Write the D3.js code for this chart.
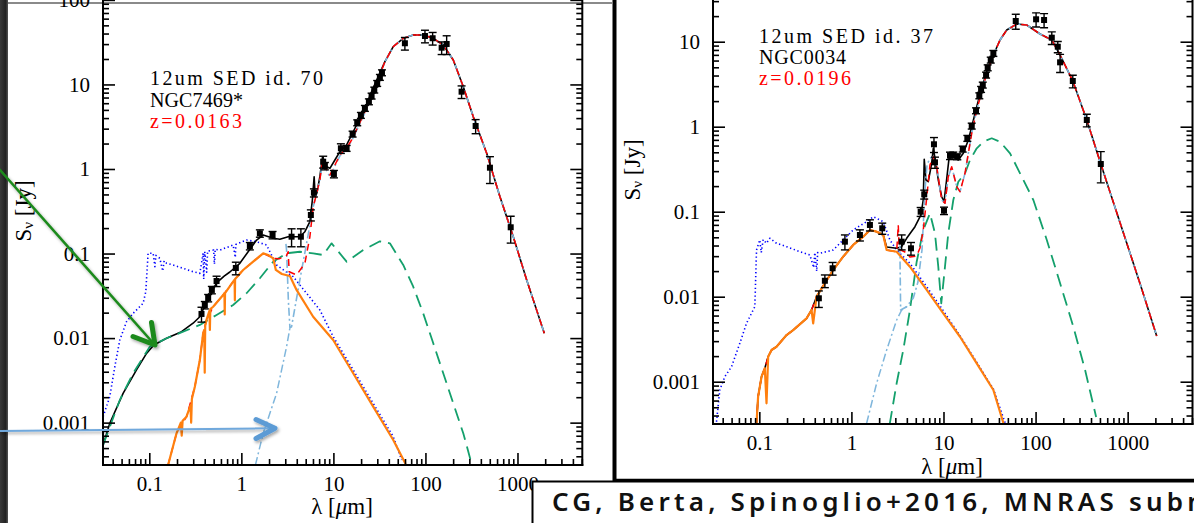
<!DOCTYPE html>
<html><head><meta charset="utf-8">
<script src="https://cdn.jsdelivr.net/npm/d3@7"></script>
<style>
html,body{margin:0;padding:0;background:#fff;overflow:hidden}
svg{display:block}
</style></head><body>
<svg id="chart" width="1194" height="523"></svg>
<script>
// ---------------- DATA (λ in µm, Sν in Jy) ----------------
const xMajor = [0.1, 1, 10, 100, 1000];
const yMajorLeft = [0.001, 0.01, 0.1, 1, 10, 100];
const yMajorRight = [0.001, 0.01, 0.1, 1, 10];

const infoLeft = ["12um SED id. 70", "NGC7469*", "z=0.0163"];
const infoRight = ["12um SED id. 37", "NGC0034", "z=0.0196"];
const creditText = "CG, Berta, Spinoglio+2016, MNRAS submitted";

// Left panel: NGC7469 photometry
const obsLamLeft = [0.369,0.401,0.436,0.478,0.538,0.871,1.237,1.589,2.183,3.513,4.434,5.69,6.14,7.745,8.08,10.13,12.06,13.92,16.17,18.15,19.9,22.0,24.3,26.0,27.8,29.9,32.0,33.7,59.8,98.8,119.7,150,170,247,351,502,844];
const obsFluxLeft = [0.0193,0.0246,0.0298,0.0371,0.0473,0.0675,0.1227,0.1733,0.1657,0.1582,0.1582,0.2857,0.5244,1.22,1.085,0.873,1.757,1.757,2.594,3.528,4.316,5.223,6.25,7.30,8.60,10.3,12.15,13.77,30.7,37.4,35.2,27.2,30.1,8.21,3.226,1.036,0.2044];
const obsErrLeft = [0.2,0.1,0.1,0.1,0.14,0.17,0.1,0.1,0.1,0.24,0.24,0.15,0.11,0.16,0.1,0.1,0.13,0.08,0.08,0.08,0.08,0.08,0.08,0.08,0.08,0.08,0.08,0.08,0.17,0.17,0.17,0.17,0.25,0.17,0.19,0.35,0.35];

const firLeft = [[36.3,18.6],[44.7,27.96],[57.4,35.1],[73.7,38.45],[94.6,38.45],[121.6,35.1],[156.1,29.3],[200.6,19.46],[257.6,9.41],[330.8,4.155],[462.6,1.533],[645,0.470],[900,0.1582],[1259,0.0487],[1955,0.0114]];
const totalLeftNear = [[0.0315,5.44e-4],[0.0372,9.83e-4],[0.0519,2.22e-3],[0.0726,4.2e-3],[0.0933,6.6e-3],[0.112,8.28e-3],[0.154,9.95e-3],[0.224,0.0119],[0.299,0.0150],[0.354,0.0179],[0.40,0.0240],[0.455,0.0320],[0.538,0.045],[0.65,0.054],[0.750,0.0605],[0.963,0.0767],[1.185,0.105],[1.463,0.1445],[1.726,0.1656],[2.217,0.1514],[2.62,0.1474],[3.227,0.1582],[4.32,0.1582],[4.90,0.1813],[5.555,0.238],[5.91,0.430],[6.18,0.811],[6.34,0.470],[6.62,0.520],[7.13,0.811],[7.63,1.398],[8.44,1.065],[9.16,1.019],[10.38,1.278],[11.77,1.602],[13.92,1.923],[15.77,2.524],[18.61,3.626],[22.0,5.22],[26.0,8.21],[30.7,12.35]];
const stellarLeft = [[0.160,3.16e-4],[0.1976,7.48e-4],[0.2537,1.175e-3],[0.3124,2.66e-3],[0.354,5.5e-3],[0.3845,0.0114],[0.4184,0.0164],[0.4938,0.0235],[0.6341,0.0323],[0.8144,0.0465],[1.046,0.0639],[1.344,0.0801],[1.726,0.1007],[2.217,0.0878]];
const attStarsLeft = [[0.160,3.16e-4],[0.1976,7.48e-4],[0.22,1.0e-3],[0.225,7.0e-4],[0.23,1.05e-3],[0.2537,1.175e-3],[0.28,1.6e-3],[0.285,1.0e-3],[0.29,1.9e-3],[0.3124,2.66e-3],[0.354,5.5e-3],[0.3845,0.0114],[0.395,0.0125],[0.40,0.0039],[0.405,0.014],[0.4184,0.0164],[0.45,0.021],[0.455,0.0125],[0.46,0.022],[0.4938,0.0235],[0.6341,0.0323],[0.655,0.034],[0.66,0.019],[0.665,0.034],[0.8144,0.0465],[0.845,0.049],[0.85,0.028],[0.855,0.05],[1.046,0.0639],[1.344,0.0801],[1.726,0.1007],[1.956,0.0961],[2.217,0.0878],[2.37,0.064],[2.755,0.0573],[3.37,0.0543],[3.98,0.0371],[6.03,0.0179],[9.95,0.0095],[16.41,3.84e-3],[27.07,1.545e-3],[44.7,6.24e-4],[60.9,3.24e-4]];
const unattStarsLeft = [[0.0315,1.175e-3],[0.0372,2.03e-3],[0.0422,4.59e-3],[0.0478,9.5e-3],[0.0565,0.0156],[0.0667,0.0196],[0.0857,0.0258],[0.0916,0.0354],[0.097,0.1008],[0.110,0.1008],[0.115,0.07],[0.118,0.095],[0.130,0.0879],[0.14,0.062],[0.145,0.082],[0.154,0.0767],[0.1815,0.0732],[0.233,0.0669],[0.299,0.061],[0.354,0.0583],[0.3845,0.1008],[0.39,0.05],[0.40,0.105],[0.42,0.06],[0.43,0.107],[0.5,0.11],[0.51,0.075],[0.52,0.112],[0.584,0.110],[0.814,0.126],[0.86,0.09],[0.87,0.128],[1.139,0.1446],[1.463,0.138],[1.879,0.126],[2.414,0.0732],[3.66,0.0532],[5.11,0.0339],[7.13,0.0215],[9.95,0.0104],[16.41,4.2e-3],[27.07,1.69e-3],[44.7,6.82e-4],[55.2,3.61e-4]];
const agnLeft = [[0.0315,5.44e-4],[0.0478,1.85e-3],[0.0667,3.84e-3],[0.1012,7.91e-3],[0.154,9.95e-3],[0.233,0.0119],[0.354,0.0143],[0.538,0.0188],[0.814,0.0246],[1.139,0.0339],[1.589,0.0510],[2.217,0.0801],[3.10,0.1007],[4.32,0.105],[6.03,0.1007],[7.75,0.0961],[9.56,0.132],[13.92,0.0801],[21.1,0.110],[32.0,0.1396],[41.1,0.132],[57.4,0.0732],[73.7,0.0405],[94.6,0.0196],[121.6,8.67e-3],[156.1,3.84e-3],[200.6,1.69e-3],[257.6,7.48e-4],[320,3.16e-4]];
const sfTotalLeftMid = [[2.6,0.087],[3.1,0.095],[3.227,0.105],[3.31,0.061],[3.98,0.0557],[4.90,0.0767],[5.555,0.158],[6.03,0.358],[6.45,0.470],[7.13,0.741],[7.63,1.278],[8.44,0.973],[9.16,0.849],[10.38,1.115],[11.77,1.464],[13.92,1.772],[15.77,2.203],[18.61,3.226],[22.0,4.72],[26.0,7.50],[30.7,11.6]];
const dustLeftMid = [[3.05,0.13],[3.10,0.110],[3.24,0.0282],[3.37,0.0132],[3.51,0.0136],[4.32,0.0487],[5.11,0.1315],[6.03,0.355],[6.45,0.47],[7.13,0.741],[7.63,1.21],[8.44,0.973],[9.16,0.80],[10.38,1.08],[11.77,1.43],[13.92,1.75],[15.77,2.15],[18.61,3.15],[22.0,4.6],[26.0,7.3],[30.7,11.4]];
const hotDustLeft = [[1.423,3.16e-4],[1.726,7.48e-4],[2.414,2.22e-3],[3.10,7.91e-3],[3.37,0.0132]];

// Right panel: NGC0034 photometry
const obsLamRight = [0.443,0.515,0.625,0.850,1.237,1.589,2.162,3.513,4.434,5.65,6.18,7.88,8.08,10.13,11.77,12.78,14.13,16.17,18.15,20.26,22.56,24.5,25.6,26.7,29.0,30.2,32.6,34.8,60.9,101.3,123.7,150,174.2,184.6,253.6,360,511];
const obsFluxRight = [9.58e-3,0.0154,0.0216,0.0444,0.0532,0.0698,0.0638,0.0444,0.0371,0.1,0.160,0.621,0.381,0.1028,0.456,0.465,0.4436,0.5466,0.7306,1.019,1.543,2.316,2.754,3.095,4.058,4.944,6.09,7.30,17.52,18.35,18.0,11.15,8.73,5.72,3.448,1.199,0.364];
const obsErrRight = [0.22,0.17,0.17,0.2,0.15,0.15,0.15,0.2,0.17,0.12,0.12,0.2,0.15,0.1,0.1,0.08,0.08,0.08,0.08,0.08,0.08,0.08,0.08,0.08,0.08,0.08,0.08,0.08,0.2,0.19,0.19,0.17,0.15,0.24,0.17,0.17,0.4];

const firRight = [[34.8,6.975],[41.1,10.47],[48.6,13.73],[62.5,16.15],[80.2,15.72],[111.9,12.32],[150,10.47],[184.6,6.975],[253.6,3.448],[360,1.199],[511,0.364],[828.6,0.0736],[1367,0.0141],[2067,3.45e-3]];
const stellarRight = [[0.0932,3.24e-4],[0.097,6.67e-4],[0.1057,1.145e-3],[0.1147,1.44e-3],[0.1247,1.97e-3],[0.1358,2.36e-3],[0.1538,2.58e-3],[0.1976,3.54e-3],[0.233,4.05e-3],[0.326,5.57e-3],[0.369,6.98e-3],[0.4184,0.01],[0.515,0.0144],[0.634,0.0206],[0.814,0.0296],[1.046,0.0406],[1.344,0.0508],[1.589,0.061],[1.879,0.0582],[2.217,0.0532]];
const totalRightMid = [[2.414,0.0384],[3.10,0.0371],[3.513,0.0388],[3.98,0.0486],[4.90,0.0666],[5.69,0.0915],[6.03,0.1373],[6.18,0.4136],[6.45,0.236],[6.83,0.2254],[7.44,0.371],[7.75,0.557],[8.27,0.371],[8.78,0.236],[9.56,0.150],[10.13,0.131],[10.8,0.236],[11.54,0.4436],[12.78,0.4436],[14.49,0.4057],[16.41,0.4864],[18.61,0.697],[20.26,1.0],[22.96,1.719],[26.0,2.83],[29.5,4.436]];
const attStarsRight = [[0.0932,3.24e-4],[0.097,6.67e-4],[0.1057,1.145e-3],[0.1147,1.44e-3],[0.1197,5.57e-4],[0.1247,1.97e-3],[0.1358,2.36e-3],[0.1538,2.58e-3],[0.1976,3.54e-3],[0.233,4.05e-3],[0.326,5.57e-3],[0.369,6.98e-3],[0.3845,4.86e-3],[0.4184,0.01],[0.515,0.0144],[0.634,0.0206],[0.814,0.0296],[1.046,0.0406],[1.344,0.0508],[1.589,0.061],[1.879,0.0582],[2.217,0.0532],[2.414,0.0354],[3.10,0.0338],[4.32,0.02254],[6.57,0.0120],[9.95,6.38e-3],[15.11,3.38e-3],[22.96,1.646e-3],[34.8,7.99e-4],[44.8,3.24e-4]];
const unattStarsRight = [[0.0343,3.38e-4],[0.0372,7.98e-4],[0.0422,1.145e-3],[0.0499,1.5e-3],[0.0614,2.83e-3],[0.0726,4.86e-3],[0.0823,6.38e-3],[0.0894,7.63e-3],[0.0932,0.0354],[0.1012,0.0465],[0.105,0.033],[0.11,0.047],[0.1197,0.0425],[0.130,0.0487],[0.1538,0.0425],[0.1976,0.0388],[0.2755,0.0338],[0.354,0.0310],[0.39,0.022],[0.40,0.033],[0.42,0.02],[0.43,0.033],[0.4546,0.0324],[0.634,0.0354],[0.814,0.0465],[1.046,0.061],[1.463,0.0763],[1.726,0.0873],[2.217,0.0763],[2.62,0.0465],[3.10,0.0354],[4.32,0.0247],[6.57,0.01311],[9.95,6.84e-3],[15.11,3.48e-3],[22.96,1.69e-3],[34.8,8.2e-4],[46.9,3.24e-4]];
const agnRight = [[2.608,3.18e-4],[3.10,9.58e-4],[3.656,2.36e-3],[4.32,6.97e-3],[5.11,0.0256],[6.03,0.0609],[7.13,0.0958],[8.08,0.0557],[8.78,0.0225],[9.46,8.36e-3],[10.38,0.0225],[11.27,0.0557],[12.78,0.1373],[14.49,0.2254],[17.13,0.283],[19.41,0.4057],[22.96,0.557],[27.07,0.666],[33.4,0.7306],[41.1,0.666],[52.8,0.4864],[67.8,0.283],[94.6,0.1373],[132.4,0.0465],[184.6,0.0144],[257.6,4.4e-3],[345,1.37e-3],[454.6,3.85e-4]];
const sfTotalRightMid = [[2.414,0.0354],[3.10,0.0338],[3.227,0.0698],[3.3,0.036],[3.815,0.0336],[4.32,0.0293],[5.11,0.0301],[5.555,0.0374],[6.03,0.0609],[6.57,0.145],[7.13,0.354],[7.75,0.4436],[8.44,0.338],[9.56,0.1373],[10.38,0.1256],[11.27,0.258],[12.28,0.338],[13.92,0.197],[15.11,0.172],[17.13,0.283],[18.61,0.486],[20.26,0.836],[22.96,1.572],[26.0,2.58],[29.5,4.25]];
const dustRightMid = [[3.36,0.04],[3.366,0.0324],[3.425,6.97e-3],[3.98,7.63e-3],[4.70,9.65e-3],[5.28,0.0149],[5.84,0.0354],[6.30,0.180],[6.62,0.354],[7.13,0.428],[7.75,0.4436],[8.44,0.338],[9.56,0.1373],[10.38,0.1256],[11.27,0.258],[12.28,0.338],[13.92,0.197],[15.11,0.172],[17.13,0.283],[18.61,0.486],[20.26,0.836],[22.96,1.572],[26.0,2.58],[29.5,4.25]];
const hotDustRight = [[1.463,3.24e-4],[1.879,9.58e-4],[2.414,2.36e-3],[3.10,5.32e-3],[3.513,6.97e-3],[3.98,7.63e-3]];

// ---------------- DRAWING ----------------
const svg = d3.select("#chart");
const defs = svg.append("defs");
const SERIF = "'Liberation Serif','Times New Roman',serif";
const xDomain = [0.0314, 5060];

const f = defs.append("filter").attr("id","shadow").attr("x","-20%").attr("y","-20%").attr("width","140%").attr("height","140%");
f.append("feDropShadow").attr("dx",1.5).attr("dy",2).attr("stdDeviation",1.6).attr("flood-color","#000").attr("flood-opacity",0.35);

svg.append("rect").attr("x",0).attr("y",0).attr("width",1194).attr("height",523).attr("fill","#fff");
const grad = defs.append("linearGradient").attr("id","strip").attr("x1",0).attr("x2",1).attr("y1",0).attr("y2",0);
grad.append("stop").attr("offset","0%").attr("stop-color","#3a3a3a");
grad.append("stop").attr("offset","70%").attr("stop-color","#222");
grad.append("stop").attr("offset","100%").attr("stop-color","#555");
svg.append("rect").attr("x",0).attr("y",0).attr("width",8).attr("height",523).attr("fill","url(#strip)");
svg.append("line").attr("x1",8).attr("x2",612).attr("y1",3).attr("y2",3).attr("stroke","#8a8a8a").attr("stroke-width",2);

const fmt = d => d >= 1 ? d3.format("d")(d) : String(+d.toPrecision(1));
const isMajor = t => Math.abs(Math.log10(t) - Math.round(Math.log10(t))) < 1e-6;

function panel(cfg) {
  const x = d3.scaleLog().domain(xDomain).range([cfg.x0, cfg.x1]);
  const y = d3.scaleLog().domain(cfg.yDomain).range([cfg.yB, cfg.yT]);
  const cid = "clip" + cfg.key;
  defs.append("clipPath").attr("id", cid).append("rect")
    .attr("x", cfg.x0).attr("y", cfg.yT).attr("width", cfg.x1 - cfg.x0).attr("height", cfg.yB - cfg.yT);
  const g = svg.append("g");
  const plot = g.append("g").attr("clip-path", `url(#${cid})`);
  const line = d3.line().x(d => x(d[0])).y(d => y(d[1]));

  const curves = [
    {data: cfg.unatt, color: "#0000ff", w: 1.6, dash: "1.3,2.6"},
    {data: cfg.total, color: "#000", w: 1.6},
    {data: cfg.agn, color: "#14a06c", w: 1.8, dash: "13,7"},
    {data: cfg.hot, color: "#7fb6dc", w: 1.5, dash: "8,3,2,3"},
    {data: cfg.dust, color: "#7fb6dc", w: 1.6, dash: "8,3,2,3"},
    {data: cfg.sf, color: "#ff0000", w: 1.5, dash: "7,5"},
    {data: cfg.att, color: "#ff7f0e", w: 2.2}
  ];
  curves.forEach(c => {
    plot.append("path").datum(c.data).attr("d", line).attr("fill", "none")
      .attr("stroke", c.color).attr("stroke-width", c.w)
      .attr("stroke-dasharray", c.dash || null).attr("stroke-linejoin", "round");
  });

  const pts = cfg.lam.map((l, i) => ({l, s: cfg.flux[i], e: cfg.err[i]}));
  const eb = plot.append("g").attr("stroke", "#000").attr("stroke-width", 1.4);
  pts.forEach(p => {
    const xp = x(p.l), y1 = y(p.s * (1 - p.e)), y2 = y(p.s * (1 + p.e));
    eb.append("line").attr("x1", xp).attr("x2", xp).attr("y1", y1).attr("y2", y2);
    eb.append("line").attr("x1", xp - 4).attr("x2", xp + 4).attr("y1", y1).attr("y2", y1);
    eb.append("line").attr("x1", xp - 4).attr("x2", xp + 4).attr("y1", y2).attr("y2", y2);
  });
  plot.append("g").selectAll("rect").data(pts).join("rect")
    .attr("x", d => x(d.l) - 3).attr("y", d => y(d.s) - 3).attr("width", 6).attr("height", 6).attr("fill", "#000");

  const xt = x.ticks(), yt = y.ticks();
  const xMin = xt.filter(t => !isMajor(t)), yMin = yt.filter(t => !isMajor(t));
  const yMaj = yt.filter(isMajor);
  const axG = g.append("g");
  const styleTicks = s => { s.select(".domain").remove(); s.selectAll(".tick line").attr("stroke", "#000").attr("stroke-width", 1.6); };
  axG.append("g").attr("transform", `translate(0,${cfg.yB})`).call(d3.axisBottom(x).tickValues(xMin).tickSize(-6).tickFormat("")).call(styleTicks);
  axG.append("g").attr("transform", `translate(0,${cfg.yB})`).call(d3.axisBottom(x).tickValues(xMajor).tickSize(-12).tickFormat("")).call(styleTicks);
  [[d3.axisLeft, cfg.x0], [d3.axisRight, cfg.x1]].forEach(([A, xp]) => {
    axG.append("g").attr("transform", `translate(${xp},0)`).call(A(y).tickValues(yMin).tickSize(-6).tickFormat("")).call(styleTicks);
    axG.append("g").attr("transform", `translate(${xp},0)`).call(A(y).tickValues(yMaj).tickSize(-12).tickFormat("")).call(styleTicks);
  });
  const lx = axG.append("g").attr("transform", `translate(0,${cfg.yB})`)
    .call(d3.axisBottom(x).tickValues(xMajor).tickSize(0).tickPadding(11).tickFormat(fmt));
  lx.select(".domain").remove();
  lx.selectAll("text").attr("font-family", SERIF).attr("font-size", 21).attr("fill", "#000");
  const ly = axG.append("g").attr("transform", `translate(${cfg.x0},0)`)
    .call(d3.axisLeft(y).tickValues(cfg.yLabels).tickSize(0).tickPadding(13).tickFormat(fmt));
  ly.select(".domain").remove();
  ly.selectAll("text").attr("font-family", SERIF).attr("font-size", 21).attr("fill", "#000");

  const fr = axG.append("g").attr("stroke", "#000").attr("stroke-width", 2).attr("fill", "none");
  fr.append("line").attr("x1", cfg.x0).attr("x2", cfg.x0).attr("y1", cfg.yT).attr("y2", cfg.yB + 1);
  fr.append("line").attr("x1", cfg.x1).attr("x2", cfg.x1).attr("y1", cfg.yT).attr("y2", cfg.yB + 1);
  fr.append("line").attr("x1", cfg.x0 - 1).attr("x2", cfg.x1 + 1).attr("y1", cfg.yB).attr("y2", cfg.yB);

  const xl = g.append("text").attr("x", cfg.xTitle[0]).attr("y", cfg.xTitle[1]).attr("text-anchor", "middle")
    .attr("font-family", SERIF).attr("font-size", 23).attr("fill", "#000");
  xl.append("tspan").text("λ [");
  xl.append("tspan").attr("font-style", "italic").text("μ");
  xl.append("tspan").text("m]");
  const yl = g.append("text").attr("transform", `translate(${cfg.yTitle[0]},${cfg.yTitle[1]}) rotate(-90)`)
    .attr("text-anchor", "middle").attr("dominant-baseline", "central")
    .attr("font-family", SERIF).attr("font-size", 23).attr("fill", "#000");
  yl.append("tspan").text("S");
  yl.append("tspan").attr("font-size", 15).attr("dy", 5).text("ν");
  yl.append("tspan").attr("dy", -5).text(" [Jy]");

  const colors = ["#000", "#000", "#ff0000"];
  cfg.info.forEach((t, i) => {
    g.append("text").attr("x", cfg.infoX).attr("y", cfg.infoY[i]).attr("font-family", SERIF).attr("font-size", 20)
      .attr("fill", colors[i]).attr("textLength", cfg.infoW[i]).attr("lengthAdjust", "spacing").text(t);
  });
}

panel({
  key: "L", x0: 103, x1: 582.3, yB: 465, yT: -20, yDomain: [3.155e-4, 171.9],
  lam: obsLamLeft, flux: obsFluxLeft, err: obsErrLeft,
  total: totalLeftNear.concat(firLeft),
  att: attStarsLeft, unatt: unattStarsLeft, agn: agnLeft,
  sf: stellarLeft.concat(sfTotalLeftMid, firLeft),
  dust: dustLeftMid.concat(firLeft), hot: hotDustLeft,
  yLabels: yMajorLeft, xTitle: [342, 514], yTitle: [23, 211],
  info: infoLeft, infoX: 150, infoY: [85, 106.5, 128], infoW: [173, 93, 92]
});
panel({
  key: "R", x0: 713, x1: 1192.5, yB: 424, yT: -20, yDomain: [3.179e-4, 53.2],
  lam: obsLamRight, flux: obsFluxRight, err: obsErrRight,
  total: stellarRight.concat(totalRightMid, firRight),
  att: attStarsRight, unatt: unattStarsRight, agn: agnRight,
  sf: stellarRight.concat(sfTotalRightMid, firRight),
  dust: dustRightMid.concat(firRight), hot: hotDustRight,
  yLabels: yMajorRight, xTitle: [952, 474], yTitle: [632, 170],
  info: infoRight, infoX: 759, infoY: [42.5, 64, 85], infoW: [174, 87, 92]
});

svg.append("line").attr("x1", 614.5).attr("x2", 614.5).attr("y1", 0).attr("y2", 481).attr("stroke", "#000").attr("stroke-width", 4);
svg.append("line").attr("x1", 613).attr("x2", 1194).attr("y1", 480).attr("y2", 480).attr("stroke", "#000").attr("stroke-width", 2.5);

const arrows = svg.append("g").attr("filter", "url(#shadow)").attr("fill", "none").attr("stroke-linecap", "round").attr("stroke-linejoin", "round");
arrows.append("line").attr("x1", 0).attr("y1", 170).attr("x2", 154).attr("y2", 344).attr("stroke", "#1f8a1f").attr("stroke-width", 2.6);
arrows.append("polyline").attr("points", "133,336.5 155,345 151.5,322.5").attr("stroke", "#1f8a1f").attr("stroke-width", 5);
arrows.append("line").attr("x1", 0).attr("y1", 431).attr("x2", 273).attr("y2", 428.3).attr("stroke", "#6fa8dc").attr("stroke-width", 2);
arrows.append("polyline").attr("points", "256,419.5 275,428.3 256,438.5").attr("stroke", "#5b9bd5").attr("stroke-width", 5);

svg.append("rect").attr("x", 532.5).attr("y", 481.5).attr("width", 700).attr("height", 60)
  .attr("fill", "#fff").attr("stroke", "#000").attr("stroke-width", 2);
svg.append("text").attr("x", 552).attr("y", 511).attr("font-family", "'Noto Sans','DejaVu Sans',sans-serif")
  .attr("font-size", 26).attr("font-weight", 600).attr("letter-spacing", 4.2).attr("fill", "#111").text(creditText);
</script></body></html>
